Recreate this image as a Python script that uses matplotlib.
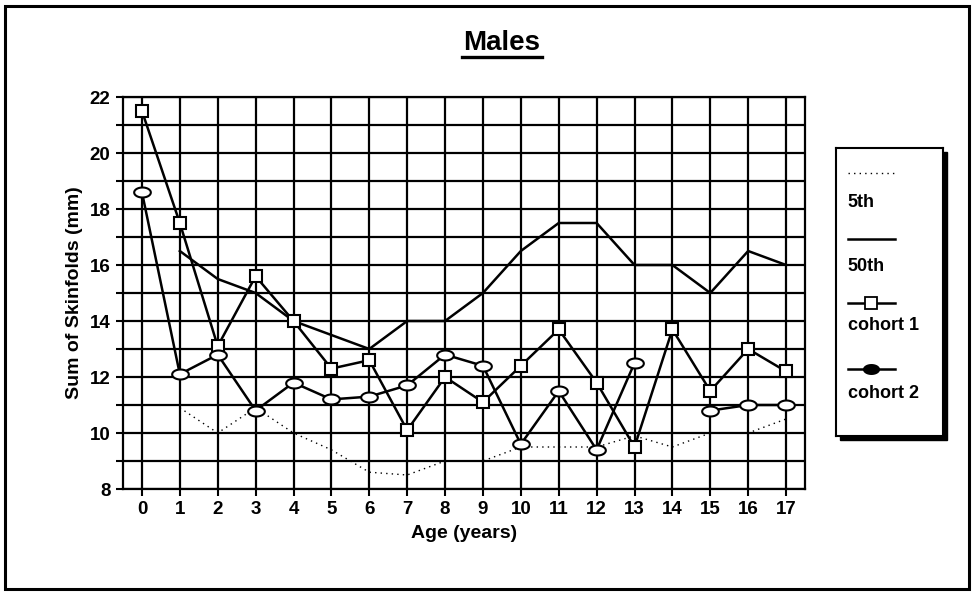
import numpy as np
import matplotlib.pyplot as plt
from matplotlib.path import Path
from matplotlib.lines import Line2D
from matplotlib.patches import Rectangle

plt.rcParams['font.family'] = ['Liberation Sans', 'DejaVu Sans']
plt.rcParams['font.weight'] = 'bold'

nan = np.nan
ages = list(range(18))
p5 = [nan, 10.9, 10.0, 10.9, 10.0, 9.4, 8.6, 8.5, 9.0, 9.0, 9.5, 9.5, 9.5, 9.9, 9.5, 10.0, 10.0, 10.5]
p50 = [nan, 16.5, 15.5, 15.0, 14.0, 13.5, 13.0, 14.0, 14.0, 15.0, 16.5, 17.5, 17.5, 16.0, 16.0, 15.0, 16.5, 16.0]
cohort1 = [21.5, 17.5, 13.1, 15.6, 14.0, 12.3, 12.6, 10.1, 12.0, 11.1, 12.4, 13.7, 11.8, 9.5, 13.7, 11.5, 13.0, 12.2]
cohort2 = [18.6, 12.1, 12.8, 10.8, 11.8, 11.2, 11.3, 11.7, 12.8, 12.4, 9.6, 11.5, 9.4, 12.5, nan, 10.8, 11.0, 11.0]
labels = ['5th', '50th', 'cohort 1', 'cohort 2']

# flat ellipse marker for cohort 2
t = np.linspace(0, 2 * np.pi, 41)
ellipse = Path(np.column_stack([np.cos(t), 0.6 * np.sin(t)]), closed=True)

W, H = 974, 593
fig = plt.figure(figsize=(W / 100, H / 100), dpi=100)
fig.patch.set_facecolor('white')

# outer frame
fig.patches.append(Rectangle((5 / W, 4 / H), 964 / W, 583 / H, transform=fig.transFigure,
                             fill=False, lw=2.2, ec='black'))

ax = fig.add_axes([123 / W, 1 - 489 / H, 682 / W, 392 / H])
ax.set_xlim(-0.5, 17.5)
ax.set_ylim(8, 22)
ax.set_xticks(ages)
ax.set_yticks(np.arange(8, 23, 2))
ax.set_yticks(np.arange(9, 22, 2), minor=True)
ax.grid(True, which='both', color='black', lw=1.6)
ax.set_axisbelow(True)
for s in ax.spines.values():
    s.set_linewidth(1.6)
ax.tick_params(axis='both', which='both', direction='out', length=5, width=1.5, labelsize=13.5, pad=4)
ax.tick_params(axis='y', which='minor', labelleft=False)

ax.plot(ages, p5, color='black', lw=1.0, ls=(0, (1, 3)))
ax.plot(ages, p50, color='black', lw=1.8)
ax.plot(ages, cohort1, color='black', lw=1.8, marker='s', ms=9, mfc='white', mec='black', mew=1.5)
ax.plot(ages, cohort2, color='black', lw=1.8, marker=ellipse, ms=12, mfc='white', mec='black', mew=1.5)

ax.set_xlabel('Age (years)', fontsize=14, fontweight='bold', labelpad=5)
ax.set_ylabel('Sum of Skinfolds (mm)', fontsize=14, fontweight='bold', labelpad=5)
fig.text(502 / W, 1 - 43 / H, 'Males', fontsize=20, fontweight='bold', ha='center', va='center')
fig.add_artist(Line2D([462 / W, 542 / W], [1 - 57 / H, 1 - 57 / H], color='black', lw=2.4))

# legend box with shadow, handles stacked above labels
fig.patches.append(Rectangle((840 / W, 1 - 440 / H), 107 / W, 288 / H, transform=fig.transFigure,
                             fc='black', ec='black', zorder=-1))
lg = fig.add_axes([836 / W, 1 - 436 / H, 107 / W, 288 / H])
lg.set_facecolor('white')
lg.set_xlim(0, 1)
lg.set_ylim(0, 1)
lg.set_xticks([])
lg.set_yticks([])
for s in lg.spines.values():
    s.set_linewidth(1.5)
styles = [dict(lw=1.0, ls=(0, (1, 3))), dict(lw=1.8),
          dict(lw=1.8, marker='s', ms=8, mfc='white', mew=1.3),
          dict(lw=1.8, marker=ellipse, ms=11, mfc='black', mew=1.3)]
line_y = [0.913, 0.684, 0.462, 0.233]
text_y = [0.8125, 0.587, 0.385, 0.149]
for lab, st, ly, ty in zip(labels, styles, line_y, text_y):
    lg.plot([0.11, 0.33, 0.55], [ly, ly, ly], color='black', markevery=[1], **st)
    lg.text(0.11, ty, lab, fontsize=13, fontweight='bold', va='center', ha='left')

fig.savefig('out.png', dpi=100)
